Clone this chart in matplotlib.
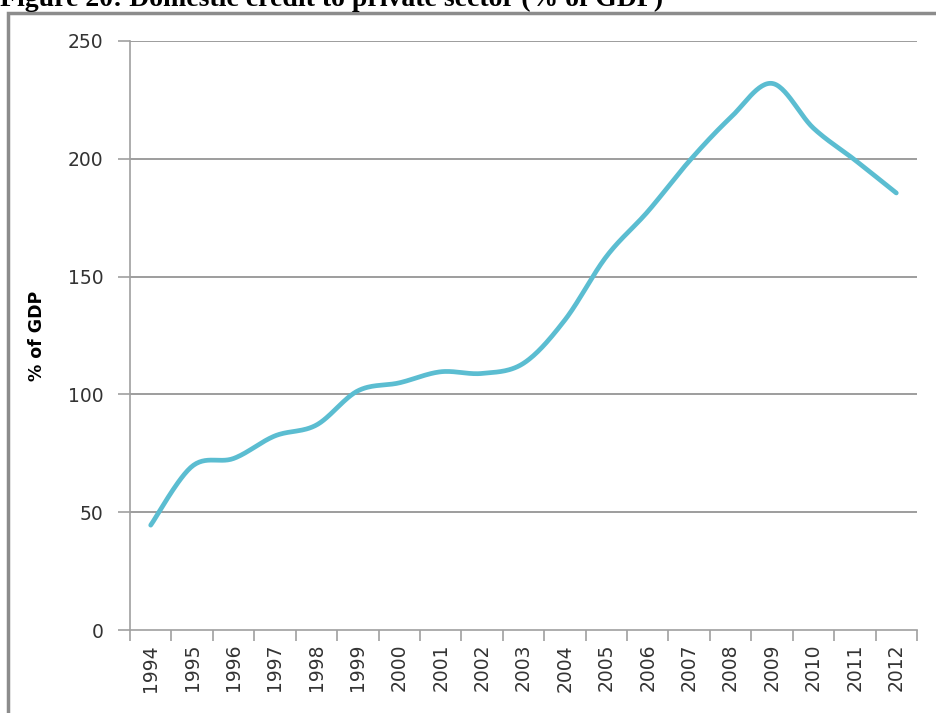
import numpy as np
import matplotlib.pyplot as plt
from matplotlib.patches import Rectangle

years = ['1994', '1995', '1996', '1997', '1998', '1999', '2000', '2001', '2002', '2003',
         '2004', '2005', '2006', '2007', '2008', '2009', '2010', '2011', '2012']
credit = [44.5, 69.5, 72.8, 82.4, 87.0, 101.5, 104.9, 109.6, 108.9, 113.2,
          131.6, 158.5, 177.6, 199.0, 217.5, 232.0, 213.0, 199.5, 185.5]


def smooth_curve(xs, ys, steps=30):
    # Excel-style smoothed line: Catmull-Rom segments drawn as cubic beziers
    xs = np.asarray(xs, float)
    ys = np.asarray(ys, float)
    px, py = [], []
    n = len(xs)
    for i in range(n - 1):
        i0 = max(i - 1, 0)
        i3 = min(i + 2, n - 1)
        c1x = xs[i] + (xs[i + 1] - xs[i0]) / 6
        c1y = ys[i] + (ys[i + 1] - ys[i0]) / 6
        c2x = xs[i + 1] - (xs[i3] - xs[i]) / 6
        c2y = ys[i + 1] - (ys[i3] - ys[i]) / 6
        t = np.linspace(0, 1, steps)
        px.extend((1-t)**3*xs[i] + 3*(1-t)**2*t*c1x + 3*(1-t)*t**2*c2x + t**3*xs[i+1])
        py.extend((1-t)**3*ys[i] + 3*(1-t)**2*t*c1y + 3*(1-t)*t**2*c2y + t**3*ys[i+1])
    return px, py


fig = plt.figure(figsize=(9.36, 7.13), dpi=100)

# outer chart border
fig.patches.append(Rectangle((8/936, -0.05), 1.0, 1 - 13/713 + 0.05, transform=fig.transFigure,
                             fill=False, edgecolor='#8c8c8c', linewidth=2.5))

fig.text(0.0, 1 - 6/713, 'Figure 20: Domestic credit to private sector (% of GDP)',
         family='Liberation Serif', fontweight='bold', fontsize=20, va='baseline', ha='left')

ax = fig.add_axes([130/936, 83/713, (917-130)/936, (630-41)/713])

x = np.arange(len(years))
sx, sy = smooth_curve(x, credit)
ax.plot(sx, sy, color='#5bbdd1', linewidth=3.4, solid_capstyle='round', zorder=3)

ax.set_xlim(-0.5, len(years) - 0.5)
ax.set_ylim(0, 250)
ax.set_yticks(np.arange(0, 251, 50))
ax.set_yticklabels([str(v) for v in range(0, 251, 50)], fontsize=13.5, color='#333333')
ax.set_xticks(x)
ax.set_xticklabels(years, rotation=90, fontsize=13.5, color='#333333')
ax.tick_params(axis='x', which='major', length=0, pad=10)
ax.set_xticks(np.arange(-0.5, len(years)), minor=True)
ax.tick_params(axis='x', which='minor', length=8, color='#a0a0a0', width=1.2)
ax.tick_params(axis='y', length=9, color='#a0a0a0', width=1.2, pad=10)

for v in range(50, 251, 50):
    ax.axhline(v, color='#8c8c8c', linewidth=1.2, zorder=1)

for side in ['top', 'right']:
    ax.spines[side].set_visible(False)
for side in ['left', 'bottom']:
    ax.spines[side].set_color('#a0a0a0')
    ax.spines[side].set_linewidth(1.2)

ax.set_ylabel('% of GDP', fontsize=12.5, fontweight='bold',
              family=['Liberation Sans Narrow', 'DejaVu Sans'], labelpad=16)

plt.savefig('out.png', dpi=100)
